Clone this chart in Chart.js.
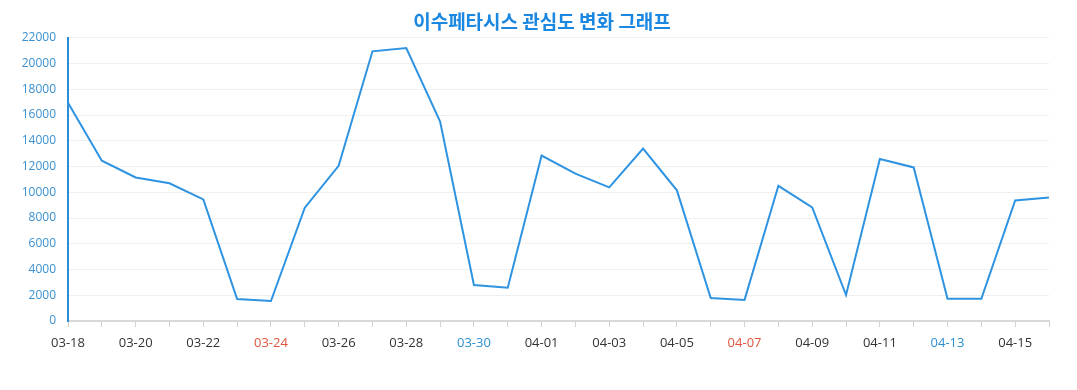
<!DOCTYPE html>
<html>
<head>
<meta charset="utf-8">
<script src="https://cdn.jsdelivr.net/npm/chart.js@4/dist/chart.umd.min.js"></script>
<style>
  html, body { margin: 0; padding: 0; background: #fff; }
  #wrap { width: 1077px; height: 390px; }
</style>
</head>
<body>
<div id="wrap"><canvas id="interestChart" width="1077" height="390"></canvas></div>
<script>
// 날짜 (03-18 ~ 04-16)
var dates = ['03-18','03-19','03-20','03-21','03-22','03-23','03-24','03-25','03-26','03-27',
             '03-28','03-29','03-30','03-31','04-01','04-02','04-03','04-04','04-05','04-06',
             '04-07','04-08','04-09','04-10','04-11','04-12','04-13','04-14','04-15','04-16'];
// 관심도 값
var interest = [16950, 12450, 11150, 10700, 9450, 1700, 1550, 8800, 12050, 20950,
                21200, 15500, 2800, 2580, 12850, 11450, 10380, 13400, 10150, 1780,
                1640, 10500, 8820, 2020, 12580, 11930, 1730, 1720, 9360, 9600];
var yTicks = [0, 2000, 4000, 6000, 8000, 10000, 12000, 14000, 16000, 18000, 20000, 22000];
// 강조된 라벨
var redDates = ['03-24', '04-07'];
var blueDates = ['03-30', '04-13'];

// 제목을 캔버스 가운데로 옮김
var centerTitle = {
    id: 'centerTitle',
    afterLayout: function(chart) {
        if (chart.titleBlock) {
            chart.titleBlock.left = 7;
            chart.titleBlock.right = chart.width;
        }
    }
};

var ctx = document.getElementById('interestChart').getContext('2d');
new Chart(ctx, {
    type: 'line',
    data: {
        labels: dates,
        datasets: [{
            label: '관심도',
            data: interest,
            borderColor: '#2e93e1',
            borderWidth: 2,
            pointRadius: 0,
            tension: 0,
            fill: false
        }]
    },
    plugins: [centerTitle],
    options: {
        responsive: false,
        animation: false,
        layout: { padding: { left: 0, right: 28, top: 0, bottom: 0 } },
        plugins: {
            legend: { display: false },
            tooltip: { enabled: false },
            title: {
                display: true,
                text: '이수페타시스 관심도 변화 그래프',
                color: '#1a87e0',
                font: { family: "'Noto Sans CJK KR', 'Noto Sans', sans-serif", size: 19, weight: 'bold' },
                padding: { top: 10, bottom: 5 }
            }
        },
        scales: {
            x: {
                offset: false,
                grid: { drawOnChartArea: false, drawTicks: true, tickLength: 6, tickColor: '#d0d0d0' },
                border: { color: '#d8d8d8', width: 2 },
                ticks: {
                    autoSkip: false,
                    maxRotation: 0,
                    padding: 8,
                    font: { family: "'Open Sans', 'Noto Sans', sans-serif", size: 13 },
                    color: function(c) {
                        var d = dates[c.index];
                        if (redDates.indexOf(d) >= 0) return '#e0553b';
                        if (blueDates.indexOf(d) >= 0) return '#2a90d2';
                        return '#333';
                    },
                    callback: function(value, index) {
                        return index % 2 === 0 ? dates[index] : '';
                    }
                },
                afterFit: function(scale) { scale.height = 69; }
            },
            y: {
                min: yTicks[0],
                max: yTicks[yTicks.length - 1],
                grid: { color: '#efefef', drawTicks: false },
                border: { color: '#2a8fd8', width: 2 },
                ticks: {
                    stepSize: 2000,
                    padding: 12,
                    color: '#3a90d0',
                    font: { family: "'Open Sans', 'Noto Sans', sans-serif", size: 12 },
                    callback: function(value) { return String(value); }
                },
                afterFit: function(scale) { scale.width = 68; }
            }
        }
    }
});
</script>
</body>
</html>
